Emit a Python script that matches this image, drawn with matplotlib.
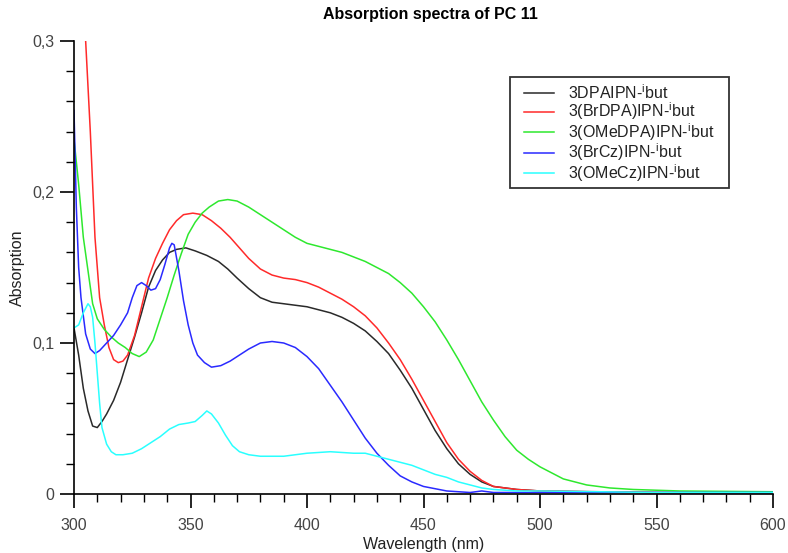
import matplotlib
matplotlib.use("Agg")
import matplotlib.pyplot as plt
from matplotlib.ticker import MultipleLocator, FuncFormatter
from matplotlib.patches import Rectangle

plt.rcParams['font.family'] = ['Liberation Sans', 'DejaVu Sans']
plt.rcParams['mathtext.fontset'] = 'custom'
plt.rcParams['mathtext.rm'] = 'Liberation Sans'

title = "Absorption spectra of PC 11"
xlabel = "Wavelength (nm)"
ylabel = "Absorption"
labels = [r"3DPAIPN-$^{\mathrm{i}}$but", r"3(BrDPA)IPN-$^{\mathrm{i}}$but",
          r"3(OMeDPA)IPN-$^{\mathrm{i}}$but", r"3(BrCz)IPN-$^{\mathrm{i}}$but",
          r"3(OMeCz)IPN-$^{\mathrm{i}}$but"]

wl_black = [300, 302, 304, 306, 308, 310, 312, 314, 317, 320, 323, 326, 329, 332, 335, 338, 341, 344, 348,
            352, 357, 362, 366, 370, 375, 380, 385, 390, 395, 400, 405, 410, 415, 420, 425, 430, 435, 440,
            445, 450, 455, 460, 465, 470, 475, 480, 490, 500, 520, 550, 580, 600]
abs_black = [0.110, 0.092, 0.070, 0.055, 0.045, 0.044, 0.048, 0.053, 0.062, 0.074, 0.089, 0.104, 0.120,
             0.137, 0.148, 0.155, 0.160, 0.162, 0.163, 0.161, 0.158, 0.154, 0.149, 0.143, 0.136, 0.130,
             0.127, 0.126, 0.125, 0.124, 0.122, 0.120, 0.117, 0.113, 0.108, 0.101, 0.093, 0.082, 0.070,
             0.056, 0.042, 0.030, 0.020, 0.013, 0.008, 0.005, 0.003, 0.002, 0.0015, 0.001, 0.001, 0.001]

wl_red = [300, 303, 305, 307, 309, 311, 313, 315, 317, 319, 321, 323, 326, 329, 332, 335, 338, 341, 344,
          347, 351, 355, 359, 363, 367, 371, 375, 380, 385, 390, 395, 400, 405, 410, 415, 420, 425, 430,
          435, 440, 445, 450, 455, 460, 465, 470, 475, 480, 490, 500, 550, 600]
abs_red = [0.42, 0.34, 0.30, 0.24, 0.17, 0.13, 0.112, 0.097, 0.089, 0.087, 0.088, 0.092, 0.105, 0.124,
           0.143, 0.156, 0.166, 0.175, 0.181, 0.185, 0.186, 0.185, 0.181, 0.176, 0.170, 0.163, 0.156,
           0.149, 0.145, 0.143, 0.142, 0.140, 0.137, 0.133, 0.129, 0.124, 0.118, 0.110, 0.100, 0.089,
           0.076, 0.062, 0.048, 0.034, 0.023, 0.015, 0.009, 0.005, 0.003, 0.002, 0.001, 0.001]

wl_green = [300, 302, 304, 306, 308, 310, 313, 316, 319, 322, 325, 328, 331, 334, 337, 340, 343, 346, 349,
            352, 355, 358, 362, 366, 370, 375, 380, 385, 390, 395, 400, 405, 410, 415, 420, 425, 430, 435,
            440, 445, 450, 455, 460, 465, 470, 475, 480, 485, 490, 495, 500, 510, 520, 530, 540, 560, 600]
abs_green = [0.235, 0.205, 0.170, 0.148, 0.126, 0.116, 0.109, 0.104, 0.100, 0.097, 0.093, 0.091, 0.094,
             0.102, 0.116, 0.130, 0.145, 0.159, 0.172, 0.180, 0.186, 0.190, 0.194, 0.195, 0.194, 0.190,
             0.185, 0.180, 0.175, 0.170, 0.166, 0.164, 0.162, 0.160, 0.157, 0.154, 0.150, 0.146, 0.140,
             0.133, 0.124, 0.114, 0.102, 0.089, 0.075, 0.061, 0.049, 0.038, 0.029, 0.023, 0.018, 0.010,
             0.006, 0.004, 0.003, 0.002, 0.0015]

wl_blue = [300, 301, 302, 303, 305, 307, 309, 311, 314, 317, 320, 323, 325, 327, 329, 331, 333, 335, 337,
           339, 341, 342, 343, 345, 347, 349, 351, 353, 356, 359, 363, 367, 371, 375, 380, 385, 390, 395,
           400, 405, 410, 415, 420, 425, 430, 435, 440, 445, 450, 460, 470, 475, 480, 500, 600]
abs_blue = [0.254, 0.190, 0.150, 0.130, 0.106, 0.096, 0.093, 0.095, 0.100, 0.105, 0.112, 0.120, 0.130,
            0.138, 0.140, 0.138, 0.135, 0.136, 0.142, 0.152, 0.163, 0.166, 0.165, 0.148, 0.128, 0.112,
            0.100, 0.092, 0.087, 0.084, 0.085, 0.088, 0.092, 0.096, 0.100, 0.101, 0.100, 0.097, 0.091,
            0.083, 0.072, 0.061, 0.049, 0.037, 0.027, 0.019, 0.012, 0.008, 0.005, 0.002, 0.001, 0.002,
            0.001, 0.001, 0.001]

wl_cyan = [300, 302, 304, 306, 307, 308, 309, 310, 311, 312, 314, 316, 318, 321, 325, 329, 333, 337, 341,
           345, 349, 352, 355, 357, 359, 362, 365, 368, 371, 375, 380, 385, 390, 395, 400, 410, 420, 425,
           430, 435, 440, 445, 450, 455, 460, 465, 470, 475, 480, 490, 500, 550, 600]
abs_cyan = [0.110, 0.112, 0.120, 0.126, 0.124, 0.117, 0.100, 0.080, 0.060, 0.044, 0.033, 0.028, 0.026,
            0.026, 0.027, 0.030, 0.034, 0.038, 0.043, 0.046, 0.047, 0.048, 0.052, 0.055, 0.053, 0.047,
            0.039, 0.032, 0.028, 0.026, 0.025, 0.025, 0.025, 0.026, 0.027, 0.028, 0.027, 0.027, 0.025,
            0.023, 0.021, 0.019, 0.016, 0.013, 0.011, 0.008, 0.006, 0.004, 0.003, 0.002, 0.002, 0.001,
            0.001]

series = [(wl_black, abs_black, '#2a2a2a'),
          (wl_red, abs_red, '#ff2a2a'),
          (wl_green, abs_green, '#2ee82e'),
          (wl_blue, abs_blue, '#2a2aff'),
          (wl_cyan, abs_cyan, '#2affff')]

W, H = 788, 553
fig = plt.figure(figsize=(W / 100, H / 100), dpi=100)
ax = fig.add_axes([74 / W, 1 - 494 / H, (773 - 74) / W, (494 - 41) / H])

for (x, y, c), lab in zip(series, labels):
    ax.plot(x, y, color=c, lw=1.1, label=lab)

ax.set_xlim(300, 600)
ax.set_ylim(0, 0.3)
ax.spines['top'].set_visible(False)
ax.spines['right'].set_visible(False)
for s in ['left', 'bottom']:
    ax.spines[s].set_linewidth(1.2)
    ax.spines[s].set_color('black')

ax.xaxis.set_major_locator(MultipleLocator(50))
ax.xaxis.set_minor_locator(MultipleLocator(10))
ax.yaxis.set_major_locator(MultipleLocator(0.1))
ax.yaxis.set_minor_locator(MultipleLocator(0.02))
ax.yaxis.set_major_formatter(FuncFormatter(lambda v, p: "0" if abs(v) < 1e-9 else f"{v:.1f}".replace('.', ',')))
ax.tick_params(which='major', direction='out', length=10, width=1.2, labelsize=11.5,
               labelcolor='#444444', pad=4)
ax.tick_params(axis='x', which='major', pad=7)
ax.tick_params(which='minor', direction='out', length=5.5, width=1.0)

ax.set_xlabel(xlabel, fontsize=11.5, color='#222222', labelpad=3)
ax.set_ylabel(ylabel, fontsize=11.5, color='#222222')
ax.yaxis.set_label_coords((25 - 74) / 699, 0.5)

fig.text(430 / W, 1 - 15 / H, title, ha='center', va='center', fontsize=11.5, fontweight='bold')

# legend frame (drawn separately so that padding matches the reference)
fx0, fx1, fy0, fy1 = 510, 729, 77, 188
frame = Rectangle(((fx0 - 74) / 699, (494 - fy1) / 453), (fx1 - fx0) / 699, (fy1 - fy0) / 453,
                  transform=ax.transAxes, fill=True, facecolor='white', edgecolor='#333333',
                  linewidth=1.3, zorder=4, clip_on=False)
ax.add_patch(frame)
leg = ax.legend(loc='upper left', bbox_to_anchor=((524 - 74) / 699, (494 - 83) / 453),
                fontsize=11.5, frameon=False, handlelength=1.9,
                borderpad=0, labelspacing=-0.07, handletextpad=0.85, borderaxespad=0)
leg.set_zorder(5)
for t in leg.get_texts():
    t.set_color('#222222')

fig.savefig("out.png", dpi=100)
